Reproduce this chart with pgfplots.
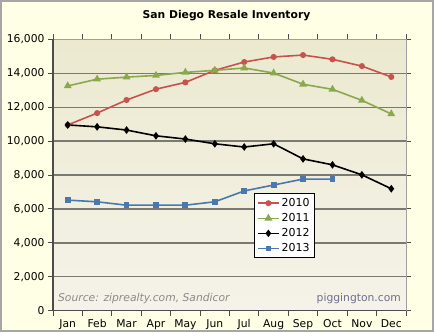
\documentclass[border=0pt]{standalone}
\usepackage{pgfplots}
\pgfplotsset{compat=1.18}
\usepackage{fontspec}
\setmainfont{DejaVu Sans}
\definecolor{outerbg}{HTML}{FFFFE6}
\definecolor{plottop}{HTML}{ECE9D0}
\definecolor{plotbot}{HTML}{F5F3E9}
\definecolor{gridc}{HTML}{7A7A72}
\definecolor{cRed}{HTML}{C8524E}
\definecolor{cGreen}{HTML}{8AA84E}
\definecolor{cBlue}{HTML}{4A77AE}
\definecolor{srcgray}{HTML}{8A8A8A}
\definecolor{piggc}{HTML}{6E6E8E}
\begin{document}
\begin{tikzpicture}[x=1bp,y=1bp]
\fill[outerbg] (0,0) rectangle (434,332);
\draw[gray!70, line width=2bp] (1,1) rectangle (433,331);
\node[font=\fontsize{10.8}{12}\selectfont\bfseries] at (226.5,316) {San Diego Resale Inventory};
\begin{axis}[
  at={(53bp,21.3bp)}, anchor=south west,
  scale only axis, width=353bp, height=271.4bp,
  xmin=-0.5, xmax=11.5, ymin=0, ymax=16000,
  xtick={0,...,11},
  xticklabels={Jan,Feb,Mar,Apr,May,Jun,Jul,Aug,Sep,Oct,Nov,Dec},
  major x tick style={draw=none},
  minor xtick={-0.5,0.5,...,11.5},
  minor tick length=5bp,
  ytick={0,2000,...,16000},
  major tick length=5bp,
  tick align=outside,
  tick style={draw=black!70, line width=1bp},
  ymajorgrids,
  major grid style={draw=gridc, line width=1.3bp},
  yticklabel style={/pgf/number format/.cd, fixed, 1000 sep={,}},
  scaled y ticks=false,
  ticklabel style={font=\fontsize{10.8}{12}\selectfont},
  /pgf/number format/assume math mode=true,
  axis line style={draw=none},
  axis background/.style={shade, top color=plottop, bottom color=plotbot},
  every axis plot/.append style={line width=1.6bp},
  legend style={at={(0.57,0.432)}, anchor=north west, fill=white, draw=black, line width=0.8bp,
    font=\fontsize{11}{12}\selectfont, row sep=1.5bp, inner sep=2.5bp},
  legend image code/.code={\draw[#1, line width=1.5bp, mark repeat=2, mark phase=2] plot coordinates {(0bp,0bp) (10.5bp,0bp) (21bp,0bp)};},
  legend cell align=left,
  clip=false,
]
\draw[gray!75, line width=1bp] (rel axis cs:0,1) -- (rel axis cs:1,1) -- (rel axis cs:1,0);
\draw[black!70, line width=1.5bp] (rel axis cs:0,1) -- (rel axis cs:0,0) -- (rel axis cs:1,0);
\addplot[cRed, mark=*, mark size=2.2bp] coordinates {
(0,10950) (1,11650) (2,12420) (3,13060) (4,13460) (5,14170) (6,14660) (7,14960) (8,15070) (9,14820) (10,14420) (11,13780)};
\addlegendentry{2010}
\addplot[cGreen, mark=triangle*, mark size=3bp] coordinates {
(0,13250) (1,13650) (2,13770) (3,13870) (4,14050) (5,14170) (6,14310) (7,14010) (8,13350) (9,13050) (10,12400) (11,11600)};
\addlegendentry{2011}
\addplot[black, mark=diamond*, mark size=2.6bp] coordinates {
(0,10950) (1,10840) (2,10650) (3,10310) (4,10120) (5,9840) (6,9650) (7,9840) (8,8950) (9,8600) (10,8010) (11,7190)};
\addlegendentry{2012}
\addplot[cBlue, mark=square*, mark size=2.1bp] coordinates {
(0,6520) (1,6420) (2,6220) (3,6220) (4,6220) (5,6420) (6,7060) (7,7410) (8,7760) (9,7760)};
\addlegendentry{2013}
\node[anchor=south west, font=\fontsize{10.8}{12}\selectfont\itshape, text=srcgray, inner sep=0pt] at (rel axis cs:0.014,0.025) {Source: ziprealty.com, Sandicor};
\node[anchor=south east, font=\fontsize{10.8}{12}\selectfont, text=piggc, inner sep=0pt] at (rel axis cs:0.986,0.025) {piggington.com};
\end{axis}
\end{tikzpicture}
\end{document}
